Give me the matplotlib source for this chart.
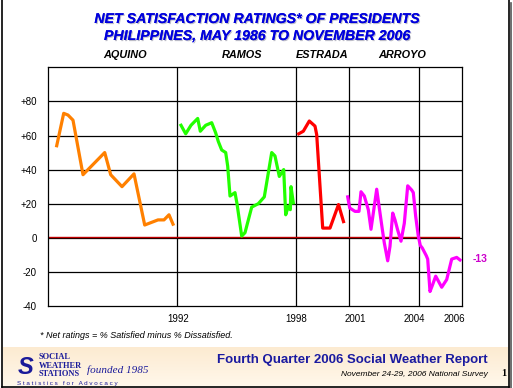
import matplotlib
matplotlib.use("Agg")
import matplotlib.pyplot as plt
import matplotlib.patheffects as pe
from matplotlib.lines import Line2D
import numpy as np

# ---- data (x = position along the survey sequence, y = net satisfaction) ----
aquino_x = [8.7, 15.7, 20, 25, 35, 56.7, 62.7, 74, 86, 96.7, 110, 116, 121, 125]
aquino_y = [54, 73, 72, 69, 37, 50, 37, 30, 37.5, 7.5, 10.5, 10.5, 13.5, 8]

ramos_x = [133, 137.7, 143, 149.7, 152.3, 157.7, 163.7, 167.7, 170.3, 173.7, 177.7,
           179.7, 182, 187, 189, 193.7, 197, 203.7, 210.3, 216.3, 220.3, 223.7, 227,
           231.3, 235.7, 237.7, 240.3, 242.3, 243, 245.3]
ramos_y = [66, 61, 66, 70, 62.5, 66, 67.5, 61.5, 56.5, 51.5, 50, 42, 24.5, 26.5, 20,
           1, 3, 18, 20, 24, 38, 50, 48, 36, 40, 13.5, 18.5, 16.5, 30, 20.5]

estrada_x = [250.7, 255.3, 261.3, 267, 268.7, 274.7, 282, 290.5, 295.5]
estrada_y = [61, 62.5, 68.5, 65.5, 60.5, 5.7, 5.7, 19.5, 9.5]

arroyo_x = [299.7, 301.7, 307, 311, 313, 316.3, 320.3, 323, 328.7, 331.3, 334.3, 336.3,
            339.7, 342, 344.7, 347, 349.7, 353, 356.3, 359.7, 363.7, 365.3, 367.7, 370.3,
            372.3, 374.3, 378.3, 379.7, 382, 384.3, 387.7, 393.7, 398.7, 403.7, 408.7, 412]
arroyo_y = [24, 17.5, 15.5, 15.5, 27, 24.5, 16.5, 5, 28.5, 17.5, 5, -3, -13.5, -5, 14.5,
            10.5, 4.5, -2, 8.5, 30.5, 28, 26.5, 12.5, 1, -4.5, -6, -10.5, -12.5, -31.5,
            -28, -22.5, -29, -24.5, -12.5, -11.5, -13]

presidents = ["AQUINO", "RAMOS", "ESTRADA", "ARROYO"]
president_label_x = [77, 194, 274, 354]
term_boundaries = [129, 247.5, 300.5, 370.7]
year_labels = ["1992", "1998", "2001", "2004", "2006"]
year_label_x = [130, 248.5, 307.5, 366, 406]
y_ticks = [-40, -20, 0, 20, 40, 60, 80]
y_tick_labels = ["-40", "-20", "0", "+20", "+40", "+60", "+80"]
latest_label = "-13"

W, H = 513, 388
fig = plt.figure(figsize=(W / 100, H / 100), dpi=100)
plt.rcParams['font.family'] = ['Liberation Sans', 'DejaVu Sans']

def fx(px):
    return px / W

def fy(py):
    return 1 - py / H

ax = fig.add_axes([fx(48), fy(306), fx(462) - fx(48), fy(67.3) - fy(306)])
ax.set_xlim(0, 414)
ax.set_ylim(-40, 100)

# grid
for yv in [-20, 0, 20, 40, 60, 80]:
    ax.axhline(yv, color='black', lw=0.9, zorder=1)
for xv in term_boundaries:
    ax.axvline(xv, color='black', lw=0.9, zorder=1)
ax.plot([0, 410.7], [0.7, 0.7], color='#C00000', lw=1.0, zorder=2)

lw = 2.3
ax.plot(aquino_x, aquino_y, color='#FF8000', lw=lw, zorder=3)
ax.plot(ramos_x, ramos_y, color='#22FF00', lw=lw, zorder=3)
ax.plot(estrada_x, estrada_y, color='#FF0000', lw=lw, zorder=3)
ax.plot(arroyo_x, arroyo_y, color='#FF00FF', lw=lw, zorder=3)

ax.text(432, -12.5, latest_label, color='#CC00CC', fontsize=7.5, fontweight='bold',
        ha='center', va='center', clip_on=False)

for s in ax.spines.values():
    s.set_color('black')
    s.set_linewidth(0.9)

ax.set_yticks(y_ticks)
ax.set_yticklabels(y_tick_labels, fontsize=7)
ax.set_xticks(year_label_x)
ax.set_xticklabels(year_labels, fontsize=7)
ax.tick_params(length=0)
ax.tick_params(axis='x', pad=6)
ax.tick_params(axis='y', pad=8)

for name, xp in zip(presidents, president_label_x):
    ax.text(xp, 100 + 4.5, name, fontsize=7.8, fontweight='bold', fontstyle='italic',
            ha='center', va='bottom', clip_on=False)

# title
shadow = [pe.withSimplePatchShadow(offset=(0.8, -0.8), shadow_rgbFace='#A0A0B0', alpha=0.7), pe.Normal()]
for txt, yy in [("NET SATISFACTION RATINGS* OF PRESIDENTS", 19),
                ("PHILIPPINES, MAY 1986 TO NOVEMBER 2006", 36)]:
    fig.text(0.5, fy(yy), txt, color='#0000DD', fontsize=10.2, fontweight='bold',
             fontstyle='italic', ha='center', va='center', path_effects=shadow)

fig.text(fx(40), fy(336), "* Net ratings = % Satisfied minus % Dissatisfied.",
         fontsize=6.5, fontstyle='italic', ha='left', va='center')

# bottom band with gradient
band = fig.add_axes([fx(3), fy(385.5), fx(508) - fx(3), fy(346.5) - fy(385.5)])
grad = np.linspace(0, 1, 100).reshape(-1, 1)
c_top = np.array([0.99, 0.92, 0.82])
c_bot = np.array([1.0, 0.97, 0.92])
img = c_top[None, None, :] * (1 - grad[:, :, None]) + c_bot[None, None, :] * grad[:, :, None]
band.imshow(img, aspect='auto', extent=[0, 1, 0, 1])
band.set_xlim(0, 1)
band.set_ylim(0, 1)
band.axis('off')

fig.text(fx(488), fy(360), "Fourth Quarter 2006 Social Weather Report", color='#1A1AA0',
         fontsize=9.5, fontweight='bold', ha='right', va='center')
fig.text(fx(488), fy(375), "November 24-29, 2006 National Survey", color='black',
         fontsize=6, fontstyle='italic', ha='right', va='center')
fig.text(fx(504), fy(374), "1", color='black', fontsize=7.5, fontweight='bold',
         family=['Liberation Serif'], ha='center', va='center')

# logo
fig.text(fx(26), fy(367), "S", color='#1A1A9A', fontsize=17, fontweight='bold',
         fontstyle='italic', ha='center', va='center')
for txt, yy in [("SOCIAL", 357), ("WEATHER", 365.7), ("STATIONS", 374)]:
    fig.text(fx(39), fy(yy), txt, color='#1A1A9A', fontsize=6, fontweight='bold',
             family=['Liberation Serif'], ha='left', va='center')
fig.text(fx(87), fy(370), "founded 1985", color='#1A1A9A', fontsize=8,
         fontstyle='italic', family=['Liberation Serif'], ha='left', va='center')
fig.text(fx(17), fy(384), "S t a t i s t i c s   f o r   A d v o c a c y", color='#1A1A9A',
         fontsize=4.5, ha='left', va='center')

# slide border (left, right, bottom)
for xs, ys in [([2, 2], [0, 386.5]), ([508.5, 508.5], [0, 386.5]), ([2, 508.5], [386.5, 386.5])]:
    fig.add_artist(Line2D([fx(x) for x in xs], [fy(y) for y in ys], color='black', lw=1.2))
fig.add_artist(Line2D([fx(510.5), fx(510.5)], [fy(3), fy(388)], color='#555555', lw=1.2))

fig.savefig("out.png", dpi=100)
